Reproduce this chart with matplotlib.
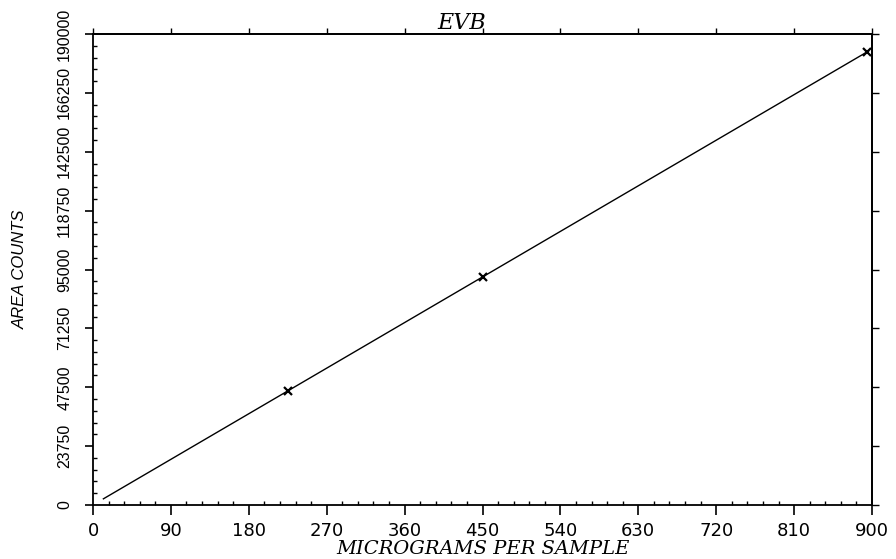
import matplotlib
matplotlib.use("Agg")
import matplotlib.pyplot as plt
from matplotlib.ticker import MultipleLocator, FixedLocator
import numpy as np

# Data
micrograms = [225, 450, 894]
area_counts = [46000, 92000, 182700]
fit_range = [12, 896]

x_ticks = [0, 90, 180, 270, 360, 450, 540, 630, 720, 810, 900]
y_ticks = [0, 23750, 47500, 71250, 95000, 118750, 142500, 166250, 190000]

title = "EVB"
x_label = "MICROGRAMS PER SAMPLE"
y_label = "AREA COUNTS"

fig = plt.figure(figsize=(8.96, 5.59), dpi=100)
ax = fig.add_axes([93/896, 1-505/559, (872-93)/896, (505-34)/559])

slope, intercept = np.polyfit(micrograms, area_counts, 1)
fx = np.array(fit_range, dtype=float)
ax.plot(fx, slope*fx + intercept, color="black", lw=1.0)
ax.plot(micrograms, area_counts, ls="none", marker="x", color="black",
        ms=6, mew=1.6)

ax.set_xlim(0, 900)
ax.set_ylim(0, 190000)
ax.xaxis.set_major_locator(FixedLocator(x_ticks))
ax.yaxis.set_major_locator(FixedLocator(y_ticks))
ax.xaxis.set_minor_locator(MultipleLocator(18))
ax.yaxis.set_minor_locator(MultipleLocator(4750))

for s in ax.spines.values():
    s.set_linewidth(1.3)

ax.tick_params(axis="x", which="major", direction="out", length=7, width=1.2,
               top=False, bottom=True, pad=5)
ax.tick_params(axis="x", which="minor", direction="in", length=3, width=1.0,
               top=False, bottom=True)
ax.tick_params(axis="y", which="major", direction="out", length=6, width=1.2,
               left=True, right=False, pad=9)
ax.tick_params(axis="y", which="minor", direction="in", length=3, width=1.0,
               left=True, right=False)

# short outward ticks on the top and right edges
top = ax.secondary_xaxis("top")
top.set_xticks(x_ticks)
top.tick_params(direction="out", length=4, width=1.0, labeltop=False)
top.spines["top"].set_linewidth(1.3)
right = ax.secondary_yaxis("right")
right.set_yticks(y_ticks)
right.tick_params(direction="out", length=5, width=1.0, labelright=False)
right.spines["right"].set_linewidth(1.3)

ax.set_xticklabels([str(v) for v in x_ticks], fontsize=13,
                   family=["DejaVu Sans"])
ax.set_yticklabels([str(v) for v in y_ticks], fontsize=11.5, rotation=90,
                   va="center", family=["Liberation Sans Narrow", "Liberation Sans"])

ax.set_xlabel(x_label, fontsize=14, family=["DejaVu Serif"], style="italic",
              labelpad=0)
ax.set_ylabel(y_label, fontsize=12, family=["Liberation Sans Narrow", "Liberation Sans"],
              style="italic", labelpad=21)

ax.text((462-93)/779, 1.0, title, transform=ax.transAxes, ha="center",
        va="bottom", fontsize=16, family=["DejaVu Serif"], style="italic")

fig.savefig("out.png", dpi=100, facecolor="white")
